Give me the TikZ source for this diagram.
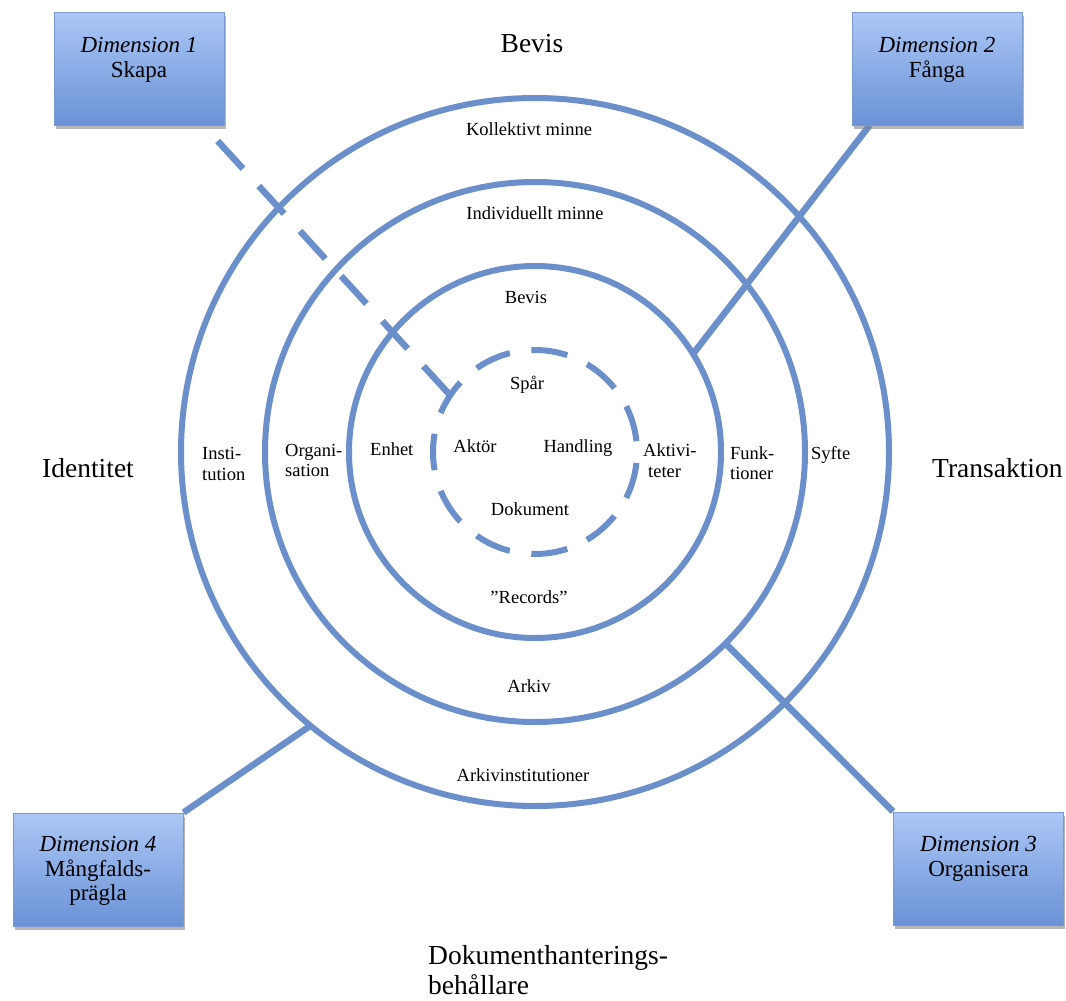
\documentclass[tikz,border=0pt]{standalone}
\usepackage{fontspec}
\setmainfont{Liberation Serif}
\usetikzlibrary{shadows}
\definecolor{ringblue}{RGB}{107,143,203}
\definecolor{boxtop}{RGB}{172,199,246}
\definecolor{boxbot}{RGB}{106,146,214}
\definecolor{boxline}{RGB}{122,154,206}
\begin{document}
\begin{tikzpicture}[x=1pt,y=-1pt,
  ring/.style={draw=ringblue,line width=6pt},
  conn/.style={draw=ringblue,line width=6.5pt},
  dimbox/.style={rectangle,draw=boxline,line width=1pt,top color=boxtop,bottom color=boxbot,
    minimum width=170pt,minimum height=113pt,inner sep=0pt,
    drop shadow={shadow xshift=1.5pt,shadow yshift=-4pt,opacity=0.35}},
  boxtxt/.style={font=\fontsize{23}{25}\selectfont,align=center,anchor=north,inner sep=0pt},
  big/.style={font=\fontsize{27.5}{30}\selectfont,inner sep=0pt},
  small/.style={font=\fontsize{18.5}{20.5}\selectfont,inner sep=0pt},
]
\useasboundingbox (0,0) rectangle (1066,1001);
\fill[white] (0,0) rectangle (1066,1001);

% rings
\coordinate (c) at (535,452);
\draw[ring] (c) circle[radius=354pt];
\draw[ring] (c) circle[radius=270pt];
\draw[ring] (c) circle[radius=186pt];
\draw[ring,dash pattern=on 36.5pt off 21.76pt,dash phase=47.4pt] (c) circle[radius=102pt];

% boxes (placed first so connectors can refer to them)
\node[dimbox] (d1) at (139,68.5) {};
\node[dimbox] (d2) at (937,68.5) {};
\node[dimbox] (d3) at (978.5,868.5) {};
\node[dimbox] (d4) at (98,869.5) {};

% connector end points
\coordinate (s1) at ([xshift=-21pt]d1.south east);
\coordinate (e1) at (450.2,395.3);
\coordinate (s2) at ([xshift=18pt]d2.south west);
\coordinate (e2) at (693,354);
\coordinate (e3) at (725.4,643.4);
\coordinate (e4) at (310.4,725.7);

\draw[conn,dash pattern=on 37.5pt off 23.5pt,dash phase=40pt] (s1) -- (e1);
\draw[conn] (s2) -- (e2);
\draw[conn] (d3.north west) -- (e3);
\draw[conn] (d4.north east) -- (e4);

% redraw boxes on top of connectors
\node[dimbox] (d1b) at (d1) {};
\node[dimbox] (d2b) at (d2) {};
\node[dimbox] (d3b) at (d3) {};
\node[dimbox] (d4b) at (d4) {};

% box texts
\node[boxtxt] (t1) at (139,37.3) {\textit{Dimension 1}\\Skapa};
\node[boxtxt] (t2) at (937,37.3) {\textit{Dimension 2}\\Fånga};
\node[boxtxt,font=\fontsize{23}{24.5}\selectfont] (t4) at (98,836.3) {\textit{Dimension 4}\\Mångfalds-\\prägla};
\node[boxtxt] (t3) at (978.5,836.3) {\textit{Dimension 3}\\Organisera};

% outer labels
\node[big,anchor=base] (tb) at (532,52) {Bevis};
\node[big,anchor=base west] (id) at (42,477) {Identitet};
\node[big,anchor=base west] (tr) at (932,477) {Transaktion};
\node[big,anchor=north west,align=left] (dh) at (428,945.5) {Dokumenthanterings-\\behållare};

% ring labels
\node[small,anchor=base] (km) at (529,135) {Kollektivt minne};
\node[small,anchor=base] (im) at (535,219) {Individuellt minne};
\node[small,anchor=base] (bv) at (526,303) {Bevis};
\node[small,anchor=base] (sp) at (527,389) {Spår};
\node[small,anchor=base] (ak) at (475,452) {Aktör};
\node[small,anchor=base] (ha) at (578,452) {Handling};
\node[small,anchor=base] (dk) at (530,515) {Dokument};
\node[small,anchor=base west] (en) at (370,455) {Enhet};
\node[small,anchor=base] (rc) at (529,603) {”Records”};
\node[small,anchor=base] (ar) at (529,692) {Arkiv};
\node[small,anchor=base] (ai) at (523,781) {Arkivinstitutioner};
\node[small,anchor=base west] (sy) at (811,459) {Syfte};
\node[small,anchor=north west,align=left] (in) at (202,447.4) {Insti-\\tution};
\node[small,anchor=north west,align=left] (og) at (285,443.9) {Organi-\\sation};
\node[small,anchor=north west,align=left] (av) at (643,443.9) {Aktivi-\\\hspace*{5pt}teter};
\node[small,anchor=north west,align=left] (fu) at (730,446.4) {Funk-\\tioner};
\end{tikzpicture}
\end{document}
